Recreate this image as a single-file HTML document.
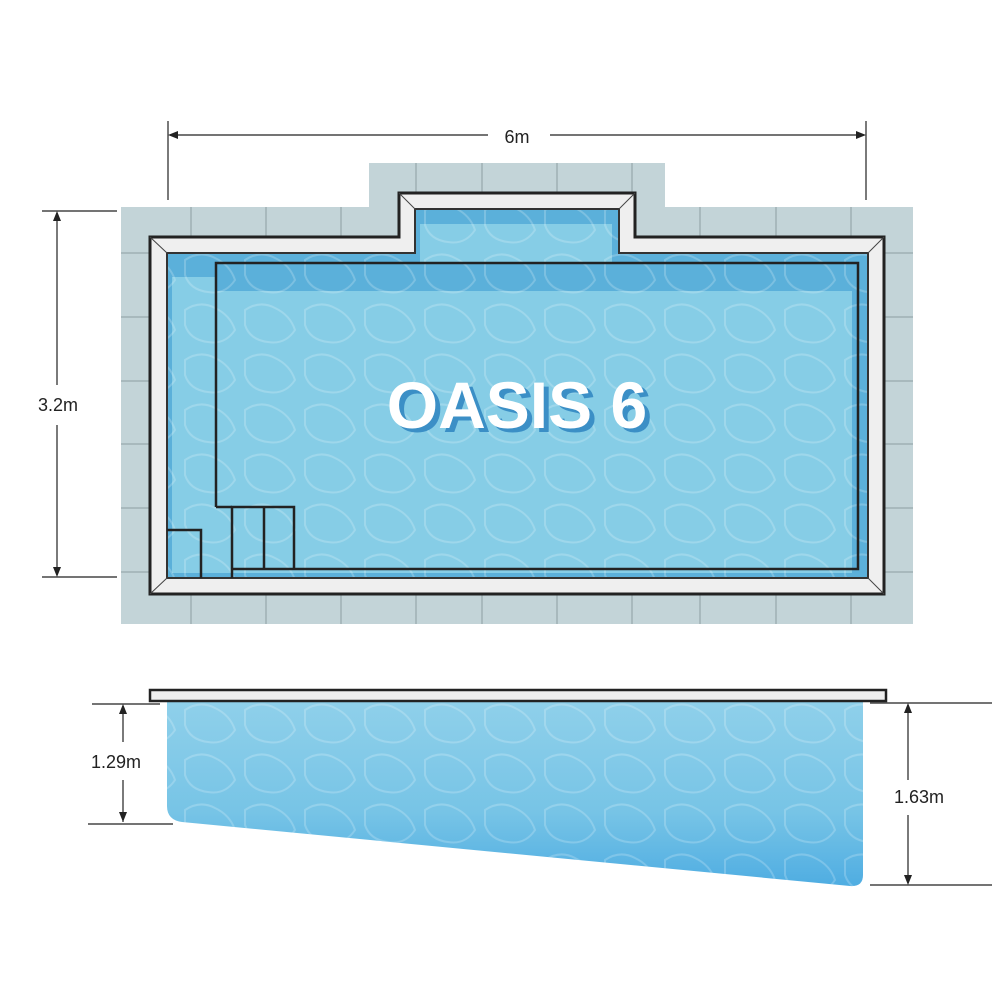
<!DOCTYPE html>
<html><head><style>body{margin:0;background:#fff}svg{display:block}</style></head><body>
<svg width="1000" height="1000" viewBox="0 0 1000 1000" xmlns="http://www.w3.org/2000/svg" font-family="Liberation Sans, sans-serif">
<defs>
<linearGradient id="sg" x1="0" y1="0" x2="0" y2="1"><stop offset="0" stop-color="#8fd0ea"/><stop offset="0.6" stop-color="#77c4e6"/><stop offset="1" stop-color="#4fadE2"/></linearGradient>
<pattern id="caust" width="60" height="50" patternUnits="userSpaceOnUse">
<path d="M5 10 Q20 0 35 8 Q50 15 55 30 Q45 45 28 42 Q10 40 5 25Z" fill="none" stroke="#ffffff" stroke-opacity="0.2" stroke-width="2"/>
</pattern>
<clipPath id="pc"><path d="M167 253H415V209H619V253H868V578H167Z"/></clipPath>
<clipPath id="sc"><path d="M167 701H863V875Q863 887 850 886L182 822Q167 820 167 806Z"/></clipPath>
</defs>
<path d="M121 207H369V163H665V207H913V624H121Z" fill="#c3d4d8"/>
<g stroke="#9fb0b4" stroke-width="1.5">
<line x1="191" y1="207" x2="191" y2="237"/><line x1="266" y1="207" x2="266" y2="237"/><line x1="341" y1="207" x2="341" y2="237"/>
<line x1="416" y1="163" x2="416" y2="193"/><line x1="482" y1="163" x2="482" y2="193"/><line x1="557" y1="163" x2="557" y2="193"/><line x1="632" y1="163" x2="632" y2="193"/>
<line x1="700" y1="207" x2="700" y2="237"/><line x1="776" y1="207" x2="776" y2="237"/><line x1="851" y1="207" x2="851" y2="237"/>
<line x1="191" y1="594" x2="191" y2="624"/><line x1="266" y1="594" x2="266" y2="624"/><line x1="341" y1="594" x2="341" y2="624"/><line x1="416" y1="594" x2="416" y2="624"/><line x1="482" y1="594" x2="482" y2="624"/><line x1="557" y1="594" x2="557" y2="624"/><line x1="632" y1="594" x2="632" y2="624"/><line x1="700" y1="594" x2="700" y2="624"/><line x1="776" y1="594" x2="776" y2="624"/><line x1="851" y1="594" x2="851" y2="624"/>
<line x1="121" y1="253" x2="150" y2="253"/><line x1="121" y1="317" x2="150" y2="317"/><line x1="121" y1="381" x2="150" y2="381"/><line x1="121" y1="444" x2="150" y2="444"/><line x1="121" y1="508" x2="150" y2="508"/><line x1="121" y1="572" x2="150" y2="572"/>
<line x1="884" y1="253" x2="913" y2="253"/><line x1="884" y1="317" x2="913" y2="317"/><line x1="884" y1="381" x2="913" y2="381"/><line x1="884" y1="444" x2="913" y2="444"/><line x1="884" y1="508" x2="913" y2="508"/><line x1="884" y1="572" x2="913" y2="572"/>
</g>
<path d="M150 237H399V193H635V237H884V594H150Z" fill="#efefef" stroke="#222" stroke-width="3"/>
<path d="M167 253H415V209H619V253H868V578H167Z" fill="#5bb0da"/>
<g clip-path="url(#pc)">
<rect x="172" y="277" width="680" height="296" fill="#86cde6"/>
<rect x="420" y="224" width="192" height="60" fill="#86cde6"/>
<rect x="216" y="263" width="642" height="28" fill="#5bb0da"/>
<rect x="160" y="200" width="720" height="390" fill="url(#caust)"/>
</g>
<path d="M167 253H415V209H619V253H868V578H167Z" fill="none" stroke="#333" stroke-width="2"/>
<g fill="none" stroke="#222" stroke-width="2.5">
<path d="M216 507V263H858V569H232"/>
<path d="M232 578V507H294V569"/><line x1="264" y1="507" x2="264" y2="569"/>
<path d="M167 530H201V578"/><line x1="216" y1="507" x2="232" y2="507"/>
</g>
<g stroke="#444" stroke-width="1"><line x1="150" y1="237" x2="167" y2="253"/><line x1="884" y1="237" x2="868" y2="253"/><line x1="150" y1="594" x2="167" y2="578"/><line x1="884" y1="594" x2="868" y2="578"/><line x1="399" y1="193" x2="415" y2="209"/><line x1="635" y1="193" x2="619" y2="209"/></g>
<text x="522" y="432" font-size="66" font-weight="bold" fill="#3b8fc6" text-anchor="middle">OASIS 6</text>
<text x="517" y="428" font-size="66" font-weight="bold" fill="#fff" text-anchor="middle">OASIS 6</text>
<path d="M167 701H863V875Q863 887 850 886L182 822Q167 820 167 806Z" fill="url(#sg)"/>
<g clip-path="url(#sc)"><rect x="160" y="700" width="710" height="190" fill="url(#caust)"/></g>
<rect x="150" y="690" width="736" height="11" fill="#efefef" stroke="#222" stroke-width="2.5"/>
<g stroke="#222" stroke-width="1.2" fill="none">
<line x1="168" y1="121" x2="168" y2="200"/><line x1="866" y1="121" x2="866" y2="200"/>
<line x1="170" y1="135" x2="488" y2="135"/><line x1="550" y1="135" x2="864" y2="135"/>
<line x1="42" y1="211" x2="117" y2="211"/><line x1="42" y1="577" x2="117" y2="577"/>
<line x1="57" y1="213" x2="57" y2="385"/><line x1="57" y1="425" x2="57" y2="575"/>
<line x1="92" y1="704" x2="160" y2="704"/><line x1="88" y1="824" x2="173" y2="824"/>
<line x1="123" y1="706" x2="123" y2="742"/><line x1="123" y1="780" x2="123" y2="822"/>
<line x1="870" y1="703" x2="992" y2="703"/><line x1="870" y1="885" x2="992" y2="885"/>
<line x1="908" y1="705" x2="908" y2="780"/><line x1="908" y1="815" x2="908" y2="883"/>
</g>
<g fill="#222">
<path d="M168 135l10-4v8z"/><path d="M866 135l-10-4v8z"/>
<path d="M57 211l-4 10h8z"/><path d="M57 577l-4-10h8z"/>
<path d="M123 704l-4 10h8z"/><path d="M123 822l-4-10h8z"/>
<path d="M908 703l-4 10h8z"/><path d="M908 885l-4-10h8z"/>
</g>
<g font-size="18" fill="#222" text-anchor="middle">
<text x="517" y="143">6m</text>
<text x="58" y="411">3.2m</text>
<text x="116" y="768">1.29m</text>
<text x="919" y="803">1.63m</text>
</g>
</svg>
</body></html>
